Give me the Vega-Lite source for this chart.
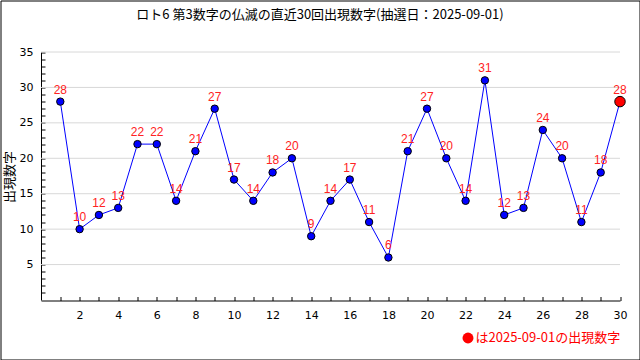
{
  "$schema": "https://vega.github.io/schema/vega-lite/v6.json",
  "width": 639,
  "height": 359,
  "autosize": "none",
  "padding": {"left": 0.5, "top": 0.5, "right": 0.5, "bottom": 0.5},
  "background": "white",
  "config": {"view": {"stroke": "#000000", "strokeWidth": 1}},
  "title": {
    "text": "ロト6 第3数字の仏滅の直近30回出現数字(抽選日：2025-09-01)",
    "font": "Noto Sans CJK JP",
    "fontSize": 13,
    "fontWeight": "normal",
    "color": "#000000",
    "anchor": "middle",
    "frame": "group",
    "offset": -21
  },
  "datasets": {
    "draws": [
      {"n": 1, "v": 28}, {"n": 2, "v": 10}, {"n": 3, "v": 12}, {"n": 4, "v": 13},
      {"n": 5, "v": 22}, {"n": 6, "v": 22}, {"n": 7, "v": 14}, {"n": 8, "v": 21},
      {"n": 9, "v": 27}, {"n": 10, "v": 17}, {"n": 11, "v": 14}, {"n": 12, "v": 18},
      {"n": 13, "v": 20}, {"n": 14, "v": 9}, {"n": 15, "v": 14}, {"n": 16, "v": 17},
      {"n": 17, "v": 11}, {"n": 18, "v": 6}, {"n": 19, "v": 21}, {"n": 20, "v": 27},
      {"n": 21, "v": 20}, {"n": 22, "v": 14}, {"n": 23, "v": 31}, {"n": 24, "v": 12},
      {"n": 25, "v": 13}, {"n": 26, "v": 24}, {"n": 27, "v": 20}, {"n": 28, "v": 11},
      {"n": 29, "v": 18}, {"n": 30, "v": 28}
    ],
    "grid": [{"g": 5}, {"g": 10}, {"g": 15}, {"g": 20}, {"g": 25}, {"g": 30}, {"g": 35}]
  },
  "layer": [
    {
      "data": {"name": "grid"},
      "mark": {"type": "rule", "color": "#d8d8d8", "strokeWidth": 1},
      "encoding": {
        "x": {"datum": 0, "type": "quantitative"},
        "x2": {"datum": 30},
        "y": {"field": "g", "type": "quantitative"}
      }
    },
    {
      "data": {"name": "draws"},
      "mark": {"type": "line", "color": "#0000ff", "strokeWidth": 1},
      "encoding": {
        "x": {
          "field": "n",
          "type": "quantitative",
          "scale": {"domain": [0, 30], "range": [40.5, 619.5], "nice": false, "zero": false},
          "axis": {
            "orient": "bottom",
            "offset": -59,
            "values": [1,2,3,4,5,6,7,8,9,10,11,12,13,14,15,16,17,18,19,20,21,22,23,24,25,26,27,28,29,30],
            "tickCount": 100,
            "format": "d",
            "labelExpr": "datum.value % 2 == 0 ? datum.label : ''",
            "labelOverlap": false,
            "tickSize": -4,
            "labelPadding": 13,
            "grid": false,
            "title": null,
            "domainColor": "#000000",
            "tickColor": "#000000",
            "labelColor": "#000000",
            "labelFont": "DejaVu Sans",
            "labelFontSize": 11,
            "labelFlush": false
          }
        },
        "y": {
          "field": "v",
          "type": "quantitative",
          "scale": {"domain": [0, 35], "range": [299.5, 51.5], "nice": false, "zero": false},
          "axis": {
            "orient": "left",
            "offset": -40.5,
            "values": [1,2,3,4,5,6,7,8,9,10,11,12,13,14,15,16,17,18,19,20,21,22,23,24,25,26,27,28,29,30,31,32,33,34,35],
            "tickCount": 100,
            "format": "d",
            "labelExpr": "datum.value % 5 == 0 ? datum.label : ''",
            "labelOverlap": false,
            "tickSize": -4,
            "labelPadding": 12,
            "grid": false,
            "title": "出現数字",
            "titleFont": "Noto Sans CJK JP",
            "titleFontSize": 13,
            "titleFontWeight": "normal",
            "titleColor": "#000000",
            "titleX": -32,
            "titleY": 176,
            "titleAngle": -90,
            "titleAlign": "center",
            "titleBaseline": "middle",
            "domainColor": "#000000",
            "tickColor": "#000000",
            "labelColor": "#000000",
            "labelFont": "DejaVu Sans",
            "labelFontSize": 11,
            "labelFlush": false
          }
        }
      }
    },
    {
      "data": {"name": "draws"},
      "transform": [{"filter": "datum.n < 30"}],
      "mark": {"type": "point", "shape": "circle", "filled": true, "fill": "#0000ff", "stroke": "#000000", "strokeWidth": 1, "size": 55, "opacity": 1},
      "encoding": {
        "x": {"field": "n", "type": "quantitative"},
        "y": {"field": "v", "type": "quantitative"}
      }
    },
    {
      "data": {"name": "draws"},
      "transform": [{"filter": "datum.n == 30"}],
      "mark": {"type": "point", "shape": "circle", "filled": true, "stroke": "#000000", "strokeWidth": 1, "size": 110, "opacity": 1},
      "encoding": {
        "x": {"field": "n", "type": "quantitative"},
        "y": {"field": "v", "type": "quantitative"},
        "color": {
          "datum": "は2025-09-01の出現数字",
          "scale": {"range": ["#ff0000"]},
          "legend": {
            "orient": "none",
            "legendX": 461,
            "legendY": 331,
            "title": null,
            "symbolType": "circle",
            "symbolSize": 120,
            "symbolStrokeWidth": 0,
            "labelFont": "Noto Sans CJK JP",
            "labelFontSize": 13,
            "labelColor": "#ff0000",
            "labelOffset": 1,
            "labelLimit": 300
          }
        }
      }
    },
    {
      "data": {"name": "draws"},
      "mark": {"type": "text", "baseline": "bottom", "align": "center", "dy": -5, "color": "#ff2222", "font": "Liberation Sans", "fontSize": 12},
      "encoding": {
        "x": {"field": "n", "type": "quantitative"},
        "y": {"field": "v", "type": "quantitative"},
        "text": {"field": "v", "type": "quantitative"}
      }
    }
  ]
}
